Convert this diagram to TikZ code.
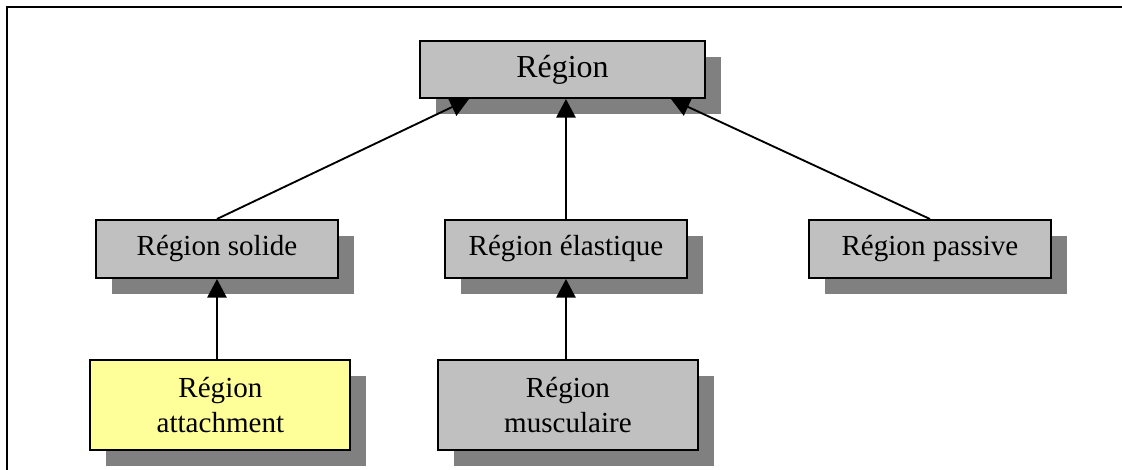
\documentclass[tikz,border=0pt]{standalone}
\usepackage{fontspec}
\setmainfont{Liberation Serif}
\usepackage{xcolor}
\usepackage{tikz}
\usetikzlibrary{positioning, shadows, arrows.meta}
\definecolor{boxgray}{HTML}{C0C0C0}
\definecolor{shadegray}{HTML}{808080}
\definecolor{paleyellow}{HTML}{FFFF99}

\begin{document}
\begin{tikzpicture}[
			x=0.75pt, y=-0.75pt,
			box/.style={
				draw,
				rectangle,
				fill=boxgray,
				line width=1.5pt,
				align=center,
				inner sep=2pt,
				minimum width=181.5pt,
				minimum height=43.5pt,
				font=\fontsize{21.8}{26.3}\selectfont,
				drop shadow={shadow xshift=12pt, shadow yshift=-12pt, fill=shadegray, opacity=1}
			},
			tallbox/.style={box, minimum width=195pt, minimum height=67.5pt},
			arrow/.style={-{Triangle[width=14.5pt, length=14pt]}, line width=1.4pt}
			]
			
			\useasboundingbox (0,0) rectangle (1122,470);
			\draw[line width=1.6pt] (7,480) -- (7,7) -- (1130,7);
			
			\node[box, minimum width=213.75pt, minimum height=42.75pt, font=\fontsize{24}{28}\selectfont] (region) at (562.5,69.5) {Région};
			\node[box, below=90pt of region, xshift=2.6pt] (elast) {Région élastique};
			\node[box, left=78.75pt of elast] (solid) {Région solide};
			\node[box, right=90pt of elast] (passive) {Région passive};
			\node[tallbox, fill=paleyellow, below=60pt of solid, xshift=2.6pt] (attach) {Région\\attachment};
			\node[tallbox, below=60pt of elast, xshift=1.5pt] (muscle) {Région\\musculaire};
			
			\draw[arrow] (solid.north) -- ([xshift=37.5pt]region.south west);
			\draw[arrow] (elast.north) -- (elast.north |- region.south);
			\draw[arrow] (passive.north) -- ([xshift=-26.25pt]region.south east);
			\draw[arrow] (attach.north -| solid.south) -- (solid.south);
			\draw[arrow] (muscle.north -| elast.south) -- (elast.south);
			
		\end{tikzpicture}
\end{document}
